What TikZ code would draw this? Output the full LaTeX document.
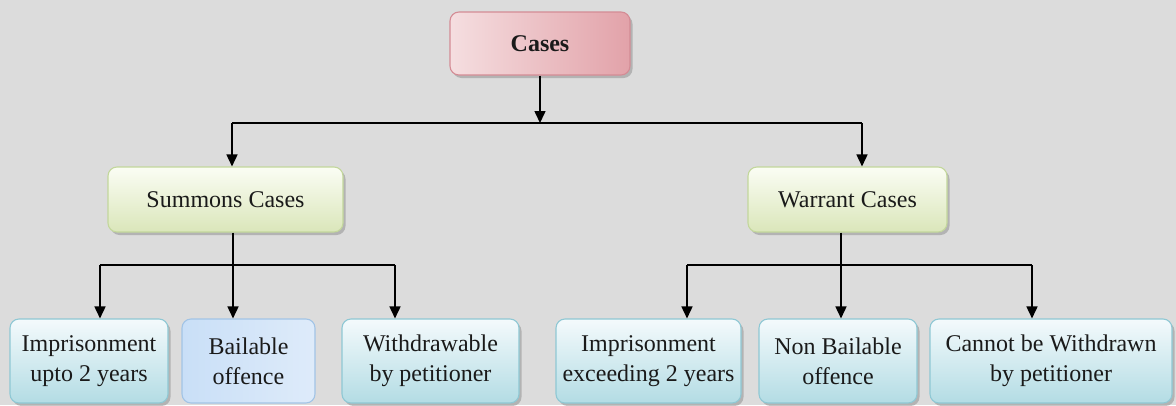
\documentclass[tikz,border=0pt]{standalone}
\usepackage{fontspec}
\setmainfont{Liberation Serif}
\usetikzlibrary{arrows.meta,shadows}

\definecolor{bgc}{HTML}{DCDCDC}
\definecolor{caseA}{HTML}{F5DEE0}
\definecolor{caseB}{HTML}{E2A2A9}
\definecolor{caseD}{HTML}{D48C95}
\definecolor{grnA}{HTML}{FBFDF4}
\definecolor{grnB}{HTML}{DAE6BA}
\definecolor{grnD}{HTML}{C3D79C}
\definecolor{cynA}{HTML}{F4FAFC}
\definecolor{cynB}{HTML}{B3DCE4}
\definecolor{cynD}{HTML}{8FC8D4}
\definecolor{bluA}{HTML}{C9DFF7}
\definecolor{bluB}{HTML}{DEEBFA}
\definecolor{bluD}{HTML}{A2C4E6}
\definecolor{inkc}{HTML}{1A1A1A}

\tikzset{
  box/.style={draw, rounded corners=9pt, line width=1.1pt, inner sep=0pt,
    text=inkc, align=center, font=\fontsize{24}{30}\selectfont},
  shad/.style={drop shadow={shadow xshift=2.5pt, shadow yshift=-3pt,
    fill=black!45, opacity=0.5}},
  rootbox/.style={box, shad, draw=caseD, left color=caseA, right color=caseB,
    font=\fontsize{24}{30}\selectfont\bfseries},
  midbox/.style={box, shad, draw=grnD, top color=grnA, bottom color=grnB},
  leafbox/.style={box, shad, draw=cynD, top color=cynA, bottom color=cynB},
  hlbox/.style={box, draw=bluD, left color=bluA, right color=bluB},
  link/.style={line width=1.6pt, black},
  arr/.style={link, -{Triangle[width=11pt,length=12pt]}},
}

\begin{document}
\begin{tikzpicture}[x=1pt,y=-1pt]
  \fill[bgc] (0,0) rectangle (1176,405);
  \useasboundingbox (0,0) rectangle (1176,405);

  % root
  \node[rootbox, minimum width=180pt, minimum height=63pt] (cases) at (540,43.5) {Cases};

  % second level
  \node[midbox, minimum width=235pt, minimum height=65pt] (summ) at (225.5,199.5) {Summons Cases};
  \node[midbox, minimum width=199pt, minimum height=65pt] (warr) at (847.5,199.5) {Warrant Cases};

  % leaves
  \node[leafbox, minimum width=158pt, minimum height=84pt] (b1) at (89,361) {Imprisonment\\upto 2 years};
  \node[hlbox,   minimum width=133pt, minimum height=84pt] (b2) at (248.5,361) {Bailable\\offence};
  \node[leafbox, minimum width=177pt, minimum height=84pt] (b3) at (430.5,361) {Withdrawable\\by petitioner};
  \node[leafbox, minimum width=185pt, minimum height=84pt] (b4) at (648.5,361) {Imprisonment\\exceeding 2 years};
  \node[leafbox, minimum width=158pt, minimum height=84pt] (b5) at (838,361) {Non Bailable\\offence};
  \node[leafbox, minimum width=242pt, minimum height=84pt] (b6) at (1051,361) {Cannot be Withdrawn\\by petitioner};

  % bus coordinates
  \coordinate (hub) at (540,123);
  \coordinate (hL) at (232,123);
  \coordinate (hR) at (862,123);
  \coordinate (sT) at (233,265);
  \coordinate (sL) at (100,265);
  \coordinate (sR) at (395,265);
  \coordinate (wT) at (841,265);
  \coordinate (wL) at (687,265);
  \coordinate (wR) at (1032,265);

  % root to second level
  \draw[arr] (cases.south) -- (hub);
  \draw[link] (hL) -- (hR);
  \draw[arr] (hL) -- (hL |- summ.north);
  \draw[arr] (hR) -- (hR |- warr.north);

  % summons cases branch
  \draw[link] (sT |- summ.south) -- (sT);
  \draw[link] (sL) -- (sR);
  \draw[arr] (sL) -- (sL |- b1.north);
  \draw[arr] (sT) -- (sT |- b2.north);
  \draw[arr] (sR) -- (sR |- b3.north);

  % warrant cases branch
  \draw[link] (wT |- warr.south) -- (wT);
  \draw[link] (wL) -- (wR);
  \draw[arr] (wL) -- (wL |- b4.north);
  \draw[arr] (wT) -- (wT |- b5.north);
  \draw[arr] (wR) -- (wR |- b6.north);
\end{tikzpicture}
\end{document}
